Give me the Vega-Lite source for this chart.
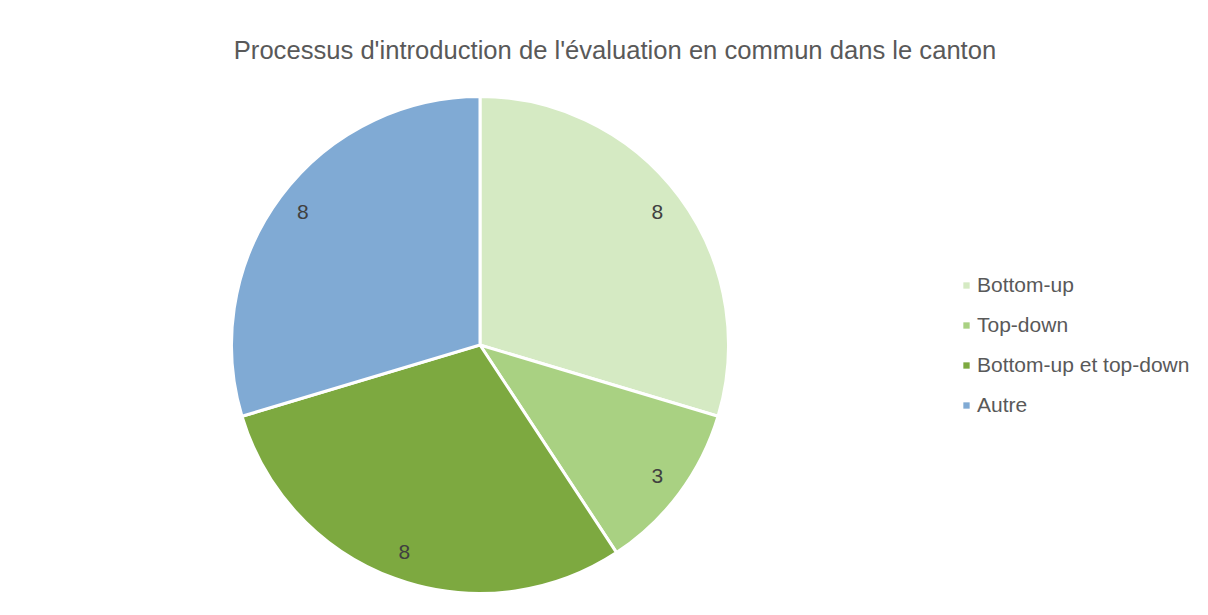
{
  "$schema": "https://vega.github.io/schema/vega-lite/v6.json",
  "autosize": {"type": "none"},
  "width": 940,
  "height": 540,
  "padding": {"left": 10, "top": 75, "right": 258, "bottom": 0},
  "background": "white",
  "config": {"view": {"stroke": null}, "font": "Liberation Sans"},
  "title": {
    "text": "Processus d'introduction de l'évaluation en commun dans le canton",
    "font": "Liberation Sans",
    "fontSize": 25.6,
    "fontWeight": "normal",
    "color": "#595959",
    "anchor": "middle",
    "frame": "group",
    "baseline": "alphabetic",
    "offset": -10,
    "dx": 135
  },
  "data": {
    "values": [
      {"processus": "Bottom-up", "nombre": 8, "ordre": 1},
      {"processus": "Top-down", "nombre": 3, "ordre": 2},
      {"processus": "Bottom-up et top-down", "nombre": 8, "ordre": 3},
      {"processus": "Autre", "nombre": 8, "ordre": 4}
    ]
  },
  "encoding": {
    "theta": {"field": "nombre", "type": "quantitative", "stack": true},
    "order": {"field": "ordre", "type": "quantitative"}
  },
  "layer": [
    {
      "mark": {"type": "arc", "outerRadius": 248.5, "stroke": "white", "strokeWidth": 3},
      "encoding": {
        "color": {
          "field": "processus",
          "type": "nominal",
          "scale": {
            "domain": ["Bottom-up", "Top-down", "Bottom-up et top-down", "Autre"],
            "range": ["#D5EAC3", "#A9D182", "#7DA940", "#80AAD4"]
          },
          "legend": {
            "title": null,
            "orient": "none",
            "legendX": 946,
            "legendY": 200,
            "padding": 0,
            "symbolType": "square",
            "symbolSize": 40,
            "symbolStrokeWidth": 0,
            "labelFont": "Liberation Sans",
            "labelFontSize": 21,
            "labelColor": "#595959",
            "labelOffset": 0,
            "labelLimit": 400,
            "rowPadding": 18
          }
        }
      }
    },
    {
      "mark": {"type": "text", "radius": 221, "font": "Liberation Sans", "fontSize": 21, "color": "#404040", "baseline": "middle", "align": "center"},
      "encoding": {
        "text": {"field": "nombre", "type": "quantitative"}
      }
    }
  ]
}
